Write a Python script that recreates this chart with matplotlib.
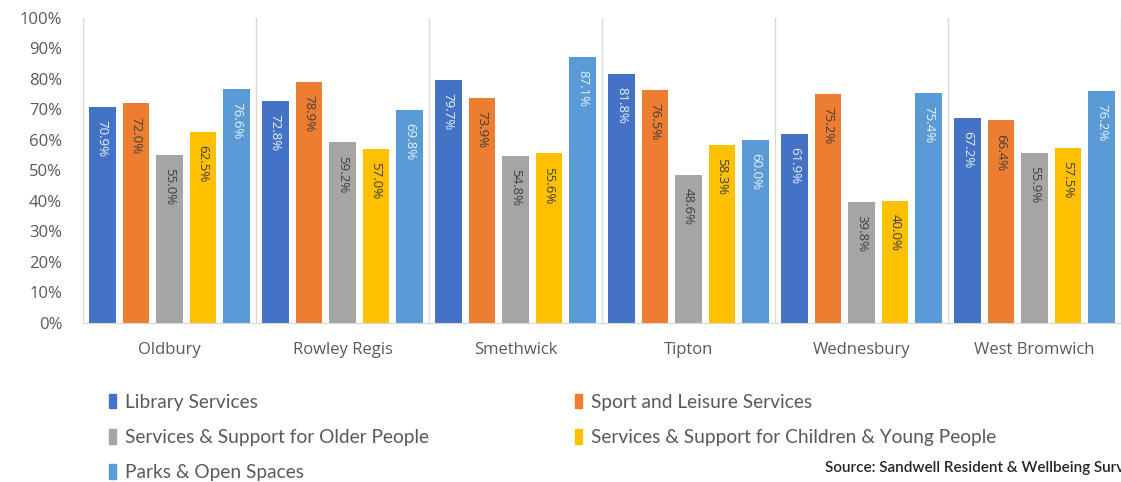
import numpy as np
import matplotlib.pyplot as plt
from matplotlib.patches import Patch
from matplotlib.ticker import PercentFormatter

towns = ["Oldbury", "Rowley Regis", "Smethwick", "Tipton", "Wednesbury", "West Bromwich"]
services = ["Library Services", "Sport and Leisure Services",
            "Services & Support for Older People",
            "Services & Support for Children & Young People",
            "Parks & Open Spaces"]

library = [70.9, 72.8, 79.7, 81.8, 61.9, 67.2]
sport = [72.0, 78.9, 73.9, 76.5, 75.2, 66.4]
older = [55.0, 59.2, 54.8, 48.6, 39.8, 55.9]
children = [62.5, 57.0, 55.6, 58.3, 40.0, 57.5]
parks = [76.6, 69.8, 87.1, 60.0, 75.4, 76.2]

colors = ["#4472C4", "#ED7D31", "#A5A5A5", "#FFC000", "#5B9BD5"]
label_colors = ["#E8EEF8", "#404040", "#404040", "#404040", "#E8F1FA"]

fig = plt.figure(figsize=(11.21, 4.82), dpi=100)
ax = fig.add_axes([83/1121, 1 - 323/482, 1038/1121, 305/482])

x = np.arange(len(towns))
step = 0.194
width = 0.152
series = [library, sport, older, children, parks]
for i, vals in enumerate(series):
    pos = x + (i - 2) * step
    bars = ax.bar(pos, vals, width, color=colors[i], label=services[i])
    for xp, v in zip(pos, vals):
        ax.text(xp, v - 4.3, f"{v:.1f}%", rotation=-90, ha="center", va="top",
                fontsize=9.5, color=label_colors[i], family="Open Sans")

ax.set_xlim(-0.5, len(towns) - 0.5)
ax.set_ylim(0, 100)
ax.yaxis.set_major_formatter(PercentFormatter(100, decimals=0))
ax.set_yticks(np.arange(0, 101, 10))
ax.set_xticks(x)
ax.set_xticklabels(towns, family="Open Sans", fontsize=12, color="#595959")
for lbl in ax.get_yticklabels():
    lbl.set_family("Open Sans")
    lbl.set_fontsize(12)
    lbl.set_color("#595959")
ax.tick_params(axis="x", length=0, pad=14)
ax.tick_params(axis="y", length=0, pad=15)

# light separators between the towns
for b in np.arange(-0.5, len(towns), 1.0):
    ax.axvline(b, color="#D9D9D9", lw=1, zorder=0)
for s in ["top", "right", "left"]:
    ax.spines[s].set_visible(False)
ax.spines["bottom"].set_color("#D9D9D9")

order = [0, 2, 4, 1, 3]
handles = [Patch(color=colors[i]) for i in order]
labels = [services[i] for i in order]
fig.legend(handles, labels, loc="upper left", bbox_to_anchor=(101/1121, 1 - 386/482),
           ncol=2, frameon=False, handlelength=0.4, handleheight=0.8, handletextpad=0.45,
           labelspacing=0.95, columnspacing=7.6, borderaxespad=0,
           prop={"family": "Lato", "size": 13.8}, labelcolor="#595959")

# source note runs off the right edge of the figure
fig.text(825/1121, 1 - 468/482, "Source: Sandwell Resident & Wellbeing Survey",
         fontsize=11, family="Lato", weight="semibold", color="#262626", va="center")

fig.savefig("out.png", dpi=100)
